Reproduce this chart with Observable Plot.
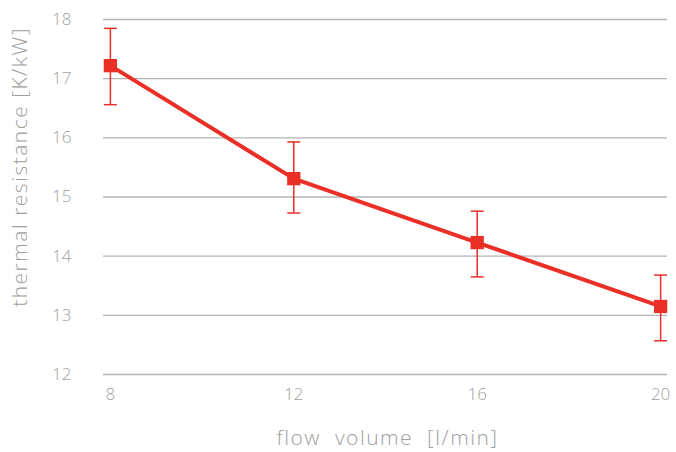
<!DOCTYPE html>
<html>
<head>
<meta charset="utf-8">
<script src="https://cdn.jsdelivr.net/npm/d3@7"></script>
<script src="https://cdn.jsdelivr.net/npm/@observablehq/plot@0.6"></script>
<style>
  html, body { margin: 0; padding: 0; background: #fff; }
  .ref-chart text { white-space: pre; }
  .ref-chart g[aria-label="text"] text { letter-spacing: 1.5px; }
</style>
</head>
<body>
<div id="chart"></div>
<script>
const flow = [8, 12, 16, 20];
const resistance = [17.22, 15.31, 14.23, 13.15];
const errLow = [16.56, 14.73, 13.65, 12.57];
const errHigh = [17.85, 15.93, 14.76, 13.68];
const xTicks = [8, 12, 16, 20];
const yTicks = [12, 13, 14, 15, 16, 17, 18];
const xLabel = "flow  volume  [l/min]";
const yLabel = "thermal resistance [K/kW]";

const data = flow.map((f, i) => ({ f, r: resistance[i], lo: errLow[i], hi: errHigh[i] }));
const red = "#ea2f27";
const gray = "#a0a0a0";
const font = "'Open Sans', Lato, sans-serif";

const capSymbol = {
  draw(ctx, size) {
    const w = 6.5;
    ctx.moveTo(-w, 0);
    ctx.lineTo(w, 0);
  }
};

const chart = Plot.plot({
  className: "ref-chart",
  width: 676,
  height: 452,
  marginLeft: 103,
  marginRight: 9,
  marginTop: 19,
  marginBottom: 78,
  style: { fontFamily: font, fontSize: "17px", fontWeight: 300, color: gray, background: "#fff" },
  x: { domain: [7.85, 20.15], ticks: xTicks, tickSize: 0, tickPadding: 14, label: null },
  y: { domain: [12, 18], ticks: yTicks, tickSize: 0, tickPadding: 32, label: null },
  marks: [
    Plot.gridY(yTicks, { stroke: "#b4b4b4", strokeOpacity: 1, strokeWidth: 1.3 }),
    Plot.axisX({ ticks: xTicks, tickSize: 0, tickPadding: 13, fontSize: 17, fill: gray, label: null, tickFormat: d3.format("d") }),
    Plot.axisY({ ticks: yTicks, tickSize: 0, tickPadding: 32, fontSize: 17, fill: gray, label: null, tickFormat: d3.format("d") }),
    Plot.ruleX(data, { x: "f", y1: "lo", y2: "hi", stroke: red, strokeWidth: 1.5 }),
    Plot.dot(data, { x: "f", y: "lo", symbol: capSymbol, stroke: red, strokeWidth: 1.5, fill: "none" }),
    Plot.dot(data, { x: "f", y: "hi", symbol: capSymbol, stroke: red, strokeWidth: 1.5, fill: "none" }),
    Plot.line(data, { x: "f", y: "r", stroke: red, strokeWidth: 4 }),
    Plot.dot(data, { x: "f", y: "r", symbol: "square", r: 7.5, fill: red, stroke: "none" }),
    Plot.text([xLabel], { frameAnchor: "bottom", dx: 2, dy: 64, fontSize: 21, fontWeight: 300, fill: gray, text: d => d, textAnchor: "middle", lineAnchor: "middle" }),
    Plot.text([yLabel], { frameAnchor: "left", dx: -83, dy: -30, rotate: -90, fontSize: 21, fontWeight: 300, fill: gray, text: d => d, textAnchor: "middle", lineAnchor: "middle" })
  ]
});
document.getElementById("chart").appendChild(chart);
</script>
</body>
</html>
